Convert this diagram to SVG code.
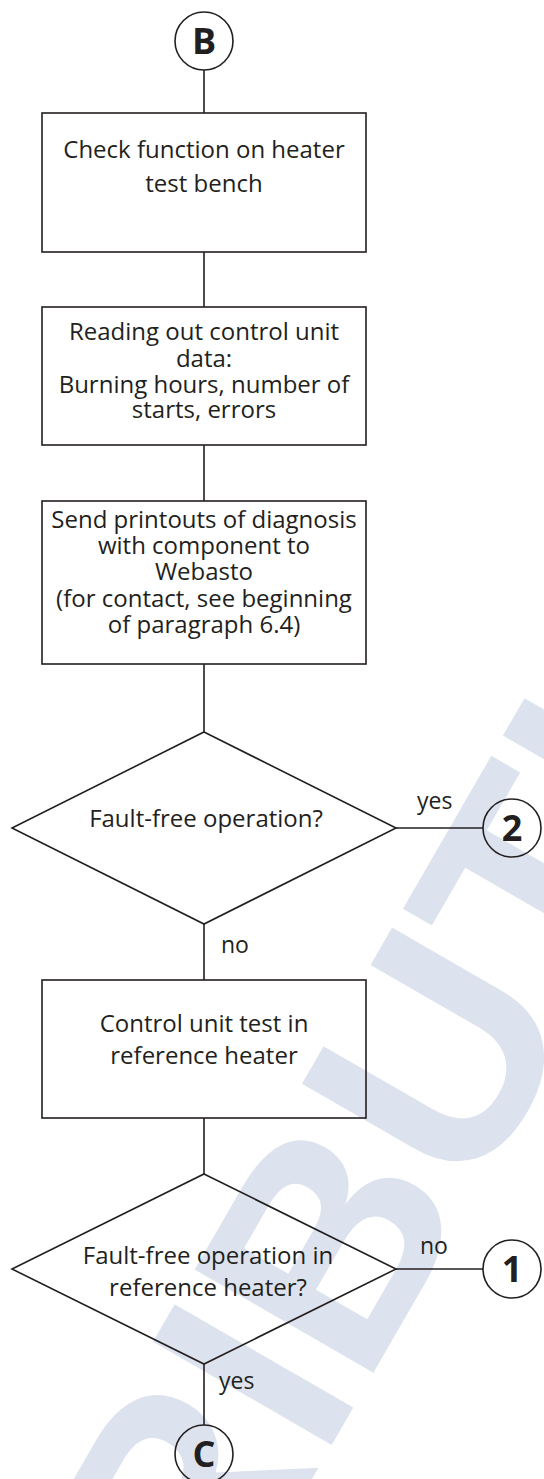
<svg xmlns="http://www.w3.org/2000/svg" width="544" height="1479" viewBox="0 0 544 1479">
<style>
.shape{fill:none;stroke:#231f20;stroke-width:1.6}
.conn{stroke:#231f20;stroke-width:1.6;fill:none}
.t{font-family:"Open Sans","Noto Sans","Liberation Sans",sans-serif;font-size:24px;fill:#231f20;text-anchor:middle}
.lbl{font-family:"Open Sans","Noto Sans","Liberation Sans",sans-serif;font-size:23px;fill:#231f20}
.c{font-family:"Open Sans","Noto Sans","Liberation Sans",sans-serif;font-size:36px;font-weight:bold;fill:#231f20;text-anchor:middle}
.wm{font-family:"Liberation Sans","Open Sans",sans-serif;font-size:300px;font-weight:bold;fill:#dde3ee;text-anchor:middle}
</style>
<rect x="0" y="0" width="544" height="1479" fill="#ffffff"/>
<text class="wm" x="405" y="1318" transform="rotate(-60 405 1318)">DISTRIBUTION</text>
<g id="connectors">
<line class="conn" x1="204" y1="70" x2="204" y2="113"/>
<line class="conn" x1="204" y1="252" x2="204" y2="307"/>
<line class="conn" x1="204" y1="445" x2="204" y2="501"/>
<line class="conn" x1="204" y1="664" x2="204" y2="732"/>
<line class="conn" x1="396" y1="828" x2="483" y2="828"/>
<line class="conn" x1="204" y1="924" x2="204" y2="980"/>
<line class="conn" x1="204" y1="1118" x2="204" y2="1174"/>
<line class="conn" x1="396" y1="1269" x2="483" y2="1269"/>
<line class="conn" x1="204" y1="1364" x2="204" y2="1425"/>
<text class="lbl" x="417" y="809">yes</text>
<text class="lbl" x="221" y="953">no</text>
<text class="lbl" x="420" y="1254">no</text>
<text class="lbl" x="219" y="1389">yes</text>
</g>
<g id="node-B">
<circle class="shape" cx="204" cy="41" r="29"/>
<text class="c" x="204" y="54">B</text>
</g>
<g id="node-check">
<rect class="shape" x="42" y="113" width="324" height="139"/>
<text class="t" x="204" y="158">Check function on heater</text>
<text class="t" x="204" y="192">test bench</text>
</g>
<g id="node-read">
<rect class="shape" x="42" y="307" width="324" height="138"/>
<text class="t" x="204" y="340">Reading out control unit</text>
<text class="t" x="204" y="367">data:</text>
<text class="t" x="204" y="393">Burning hours, number of</text>
<text class="t" x="204" y="418">starts, errors</text>
</g>
<g id="node-send">
<rect class="shape" x="42" y="501" width="324" height="163"/>
<text class="t" x="204" y="528">Send printouts of diagnosis</text>
<text class="t" x="204" y="554">with component to</text>
<text class="t" x="204" y="580">Webasto</text>
<text class="t" x="204" y="607">(for contact, see beginning</text>
<text class="t" x="204" y="633">of paragraph 6.4)</text>
</g>
<g id="node-decision1">
<path class="shape" d="M204,732 L396,828 L204,924 L12,828 Z"/>
<text class="t" x="206" y="827">Fault-free operation?</text>
</g>
<g id="node-2">
<circle class="shape" cx="512" cy="828" r="29"/>
<text class="c" x="512" y="841">2</text>
</g>
<g id="node-cutest">
<rect class="shape" x="42" y="980" width="324" height="138"/>
<text class="t" x="204" y="1032">Control unit test in</text>
<text class="t" x="204" y="1064">reference heater</text>
</g>
<g id="node-decision2">
<path class="shape" d="M204,1174 L396,1269 L204,1364 L12,1269 Z"/>
<text class="t" x="208" y="1264">Fault-free operation in</text>
<text class="t" x="208" y="1296">reference heater?</text>
</g>
<g id="node-1">
<circle class="shape" cx="512" cy="1269" r="29"/>
<text class="c" x="512" y="1282">1</text>
</g>
<g id="node-C">
<circle class="shape" cx="204" cy="1454" r="29"/>
<text class="c" x="204" y="1467">C</text>
</g>
</svg>
